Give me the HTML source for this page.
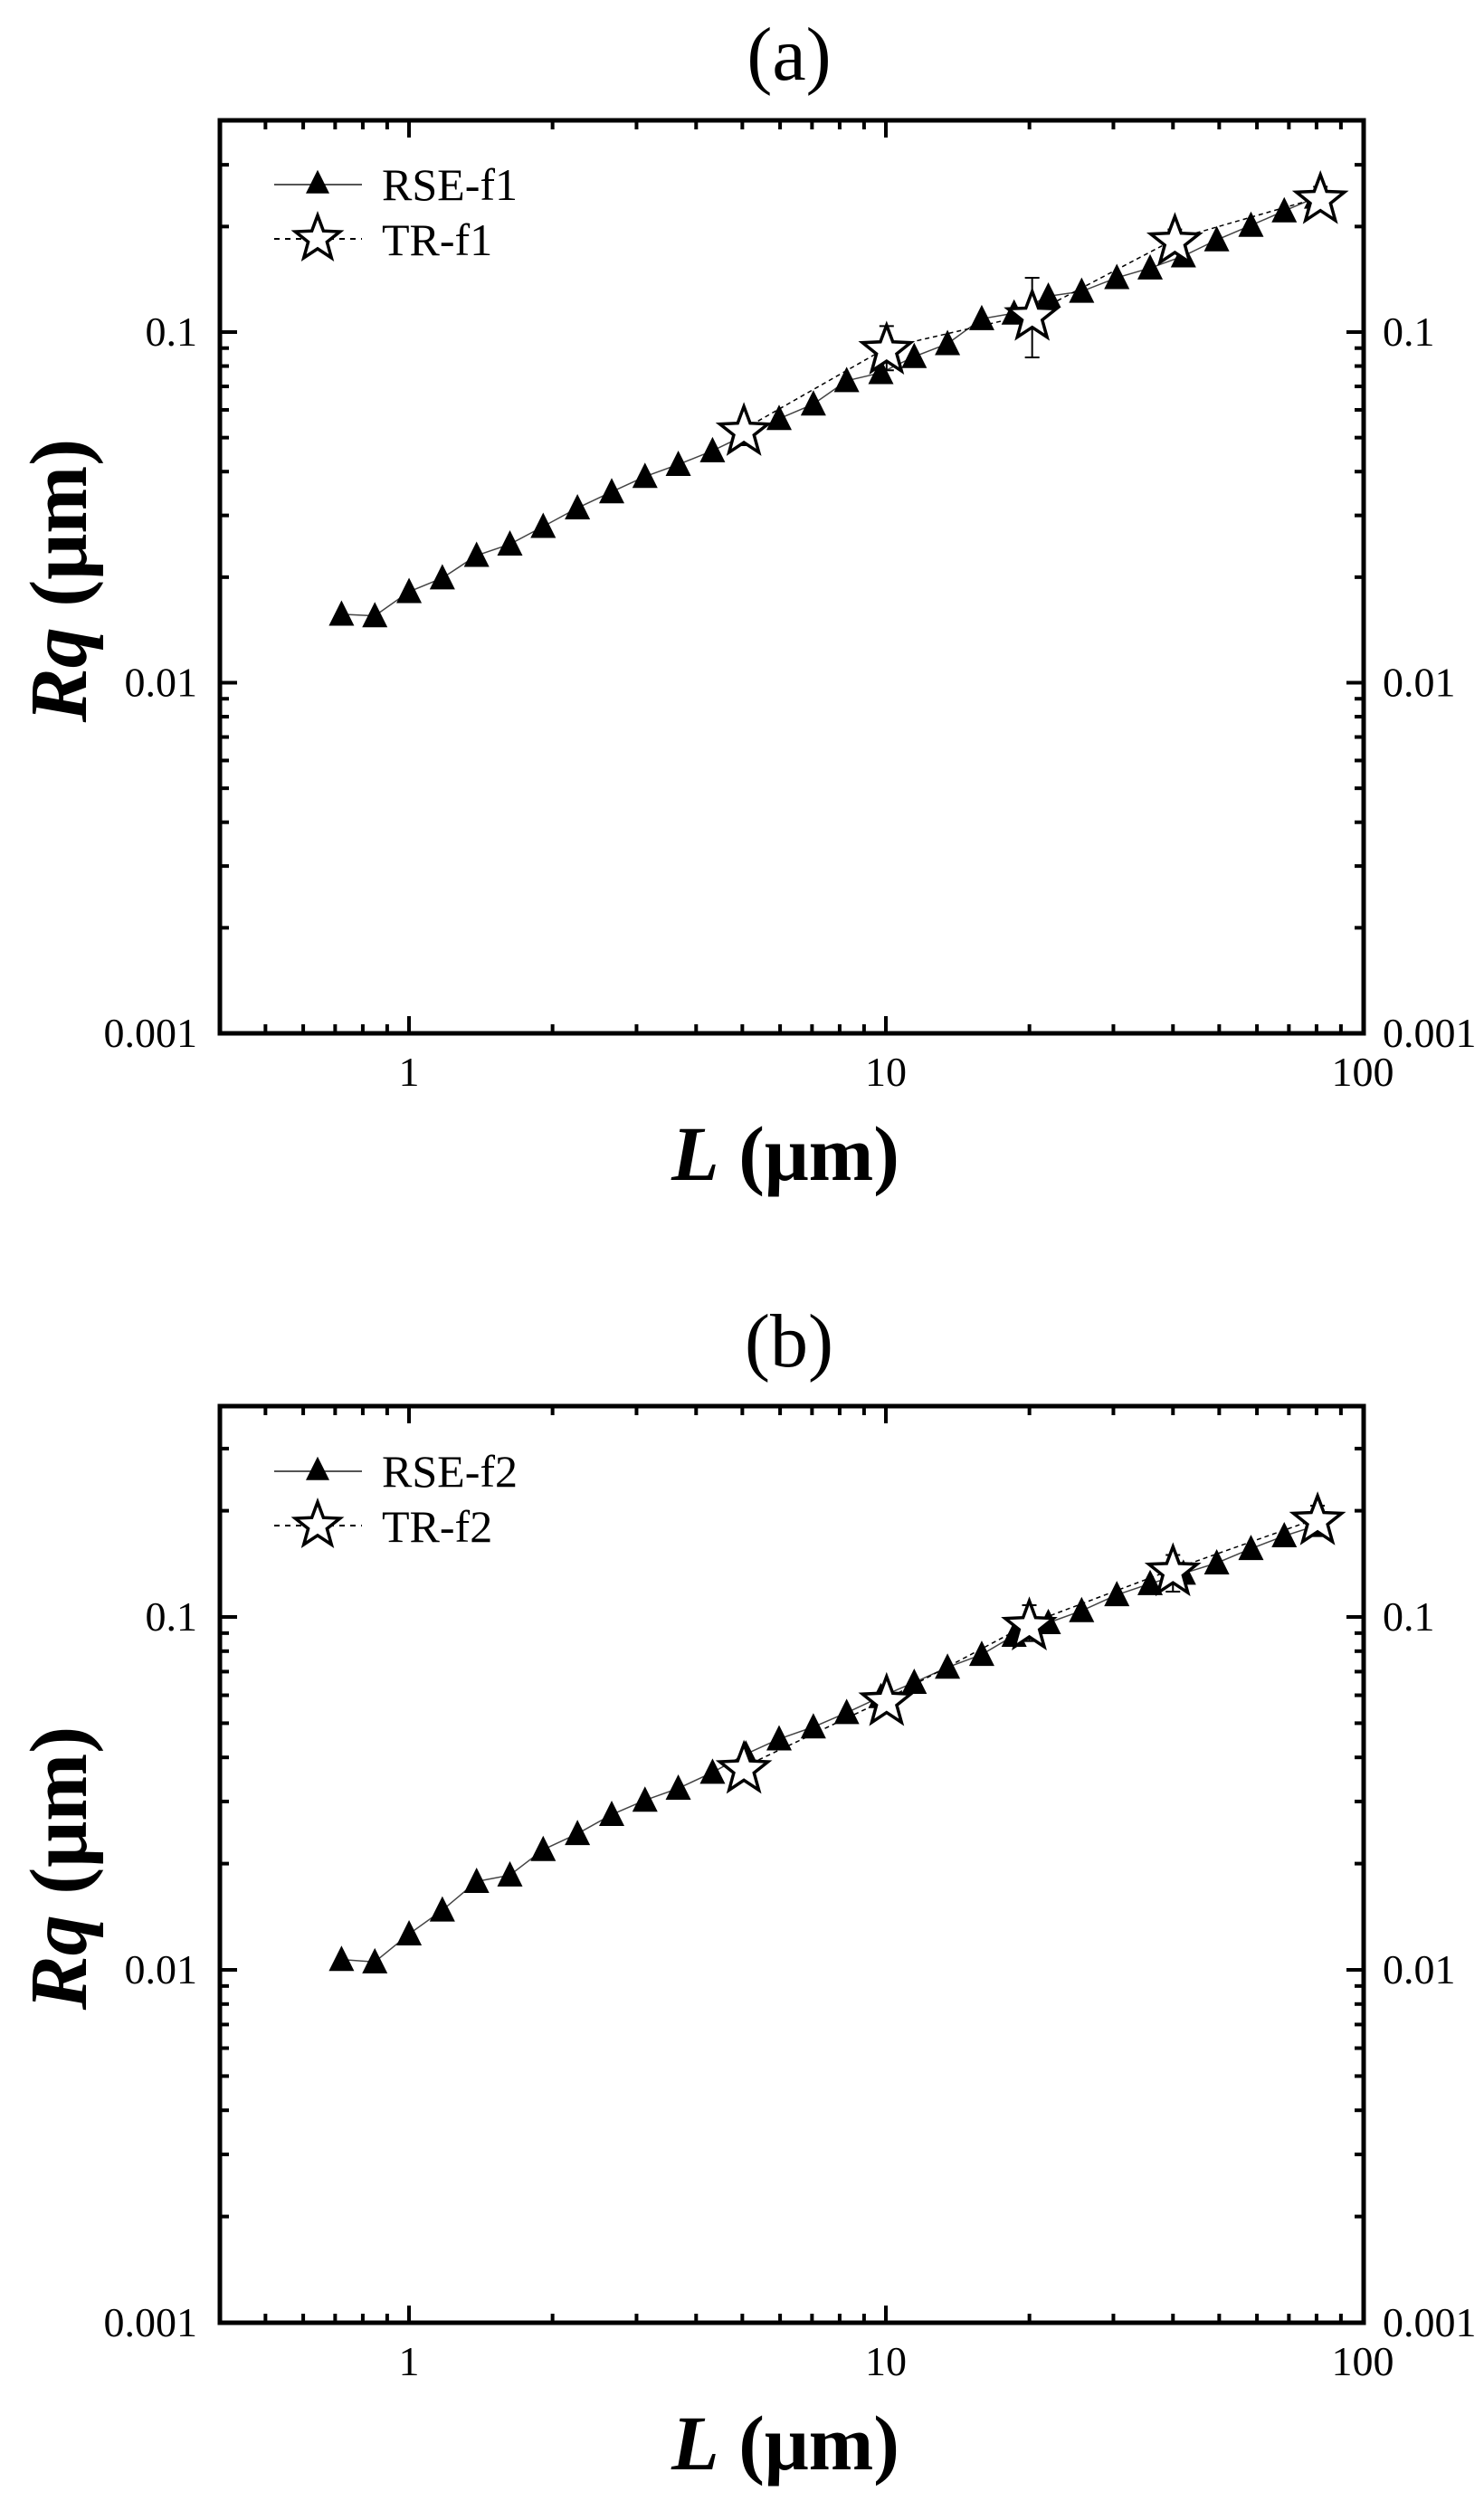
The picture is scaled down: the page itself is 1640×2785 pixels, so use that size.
<!DOCTYPE html>
<html><head><meta charset="utf-8"><style>
html,body{margin:0;padding:0;background:#fff}
svg text{font-family:"Liberation Serif","Times New Roman",serif;fill:#000}
</style></head><body>
<svg id="s" width="1640" height="2780" xmlns="http://www.w3.org/2000/svg"></svg>
<script>
const S=document.getElementById('s');let h='';
function panel(o){
 const L=243,R=1507,T=o.top,B=o.bot,x1=452,xd=527,y01=o.y01,yd=o.yd;
 const X=v=>x1+Math.log10(v)*xd, Y=v=>y01+(-1-Math.log10(v))*yd;
 h+=`<rect x="${L}" y="${T}" width="${R-L}" height="${B-T}" fill="none" stroke="#000" stroke-width="5"/>`;
 const xs=[];for(let d of [0.1,1,10])for(let k=1;k<10;k++){const v=d*k;const p=X(v);if(p>L+1&&p<R+1)xs.push([p,k==1]);}
 xs.push([R,true]);
 for(const [p,maj] of xs){const l=maj?19:10;h+=`<line x1="${p}" y1="${B}" x2="${p}" y2="${B-l}" stroke="#000" stroke-width="4"/><line x1="${p}" y1="${T}" x2="${p}" y2="${T+l}" stroke="#000" stroke-width="4"/>`;}
 const ys=[];for(let d of [0.001,0.01,0.1])for(let k=1;k<10;k++){const v=d*k;const p=Y(v);if(p>T+2&&p<=B+1)ys.push([p,k==1]);}
 for(const [p,maj] of ys){const l=maj?19:10;h+=`<line x1="${L}" y1="${p}" x2="${L+l}" y2="${p}" stroke="#000" stroke-width="4"/><line x1="${R}" y1="${p}" x2="${R-l}" y2="${p}" stroke="#000" stroke-width="4"/>`;}
 for(const [v,t] of [[0.1,'0.1'],[0.01,'0.01'],[0.001,'0.001']]){const p=Y(v)+15;
  h+=`<text x="218" y="${p}" font-size="46" text-anchor="end">${t}</text><text x="1528" y="${p}" font-size="46">${t}</text>`;}
 for(const [v,t] of [[1,'1'],[10,'10'],[100,'100']])h+=`<text x="${X(v)}" y="${B+58}" font-size="46" text-anchor="middle">${t}</text>`;
 h+=`<text x="868" y="${B+162}" font-size="86" font-weight="bold" text-anchor="middle"><tspan font-style="italic">L</tspan> (μm)</text>`;
 h+=`<text transform="translate(95 ${(T+B)/2+4}) rotate(-90)" font-size="90" font-weight="bold" text-anchor="middle"><tspan font-style="italic">Rq</tspan> (μm)</text>`;
 h+=`<text x="872" y="${o.ty}" font-size="84" text-anchor="middle">${o.title}</text>`;
 const tri=(x,y,s)=>`<polygon points="${x},${y-s*0.55} ${x-s/2},${y+s*0.45} ${x+s/2},${y+s*0.45}" fill="#000"/>`;
 const star=(x,y,r)=>{let p=[];for(let i=0;i<10;i++){const a=-Math.PI/2+i*Math.PI/5,rr=i%2?r*0.42:r;p.push((x+rr*Math.cos(a)).toFixed(1)+','+(y+rr*Math.sin(a)+3).toFixed(1));}return `<polygon points="${p.join(' ')}" fill="#fff" stroke="#000" stroke-width="3.5"/>`;};
 const tp=o.tri.map(([a,b])=>[a*1.0513,o.fy(b)]), sp=o.star.map(([a,b])=>[a*1.0513,o.fy(b)]);
 h+=`<polyline points="${tp.map(p=>p.join(',')).join(' ')}" fill="none" stroke="#444" stroke-width="1.5"/>`;
 h+=`<polyline points="${sp.map(p=>p.join(',')).join(' ')}" fill="none" stroke="#000" stroke-width="1.5" stroke-dasharray="5 4"/>`;
 for(const e of o.err){const x=e[0]*1.0513,y1=o.fy(e[1]),y2=o.fy(e[2]);h+=`<line x1="${x}" y1="${y1}" x2="${x}" y2="${y2}" stroke="#000" stroke-width="2"/><line x1="${x-8}" y1="${y1}" x2="${x+8}" y2="${y1}" stroke="#000" stroke-width="2"/><line x1="${x-8}" y1="${y2}" x2="${x+8}" y2="${y2}" stroke="#000" stroke-width="2"/>`;}
 for(const [x,y] of tp)h+=tri(x,y,28);
 for(const [x,y] of sp)h+=star(x,y,28);
 const ly=o.ly;
 h+=`<line x1="303" y1="${ly}" x2="400" y2="${ly}" stroke="#555" stroke-width="2"/>`+tri(351,ly-2,26);
 h+=`<text x="422" y="${ly+17}" font-size="50">${o.l1}</text>`;
 const ly2=ly+60;
 h+=`<line x1="303" y1="${ly2}" x2="400" y2="${ly2}" stroke="#000" stroke-width="2" stroke-dasharray="6 6"/>`+star(351,ly2-3,26);
 h+=`<text x="422" y="${ly2+18}" font-size="50">${o.l2}</text>`;
}
panel({top:133,bot:1142,y01:367,yd:387.5,ty:88,title:'(a)',fy:b=>b*0.8897,ly:204,l1:'RSE-f1',l2:'TR-f1',
tri:[[359,763],[394,765],[430,735],[465,718],[501,690],[536,676],[571,654],[607,631],[643,611],[678,592],[713,577],[749,560],[784,540],[819,520],[855,502],[890,473],[926,463],[961,443],[996,427],[1032,396],[1066,389],[1102,368],[1137,362],[1174,345],[1209,333],[1244,318],[1279,298],[1315,280],[1350,262],[1384,245]],
star:[[782,533],[932,432],[1085,390],[1235,297],[1388,245]],
err:[[932,405,460],[1085,345,444],[1235,285,312],[1388,232,262]]});
panel({top:1554,bot:2567,y01:1787,yd:390,ty:1510,title:'(b)',fy:b=>1400+b*0.880,ly:1626,l1:'RSE-f2',l2:'TR-f2',
tri:[[359,870],[394,873],[430,838],[465,808],[501,772],[536,764],[571,732],[607,712],[643,688],[678,670],[713,655],[749,635],[784,612],[819,593],[855,578],[890,560],[926,540],[961,522],[996,503],[1032,487],[1066,463],[1102,447],[1137,432],[1174,412],[1209,398],[1244,385],[1279,372],[1315,354],[1350,338],[1384,325]],
star:[[782,628],[932,543],[1082,448],[1233,380],[1385,316]],
err:[[1082,425,470],[1233,362,408],[1385,300,338]]});
S.innerHTML=h;
</script>
</body></html>
